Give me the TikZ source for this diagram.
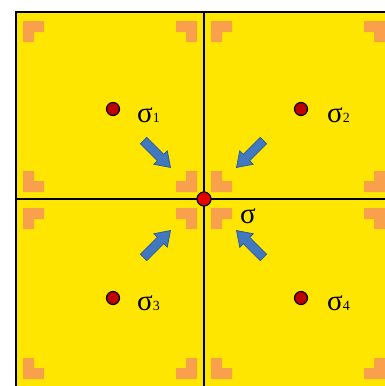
\documentclass[tikz,border=0pt]{standalone}
\usepackage{fontspec}
\setmainfont{Liberation Serif}
\definecolor{cellyellow}{RGB}{255,230,0}
\definecolor{bracketorange}{RGB}{248,160,75}
\definecolor{arrowblue}{RGB}{66,120,190}
\definecolor{arrowedge}{RGB}{45,90,150}
\definecolor{dotred}{RGB}{190,0,0}
\definecolor{centerred}{RGB}{230,0,0}
\tikzset{
  dot/.style={circle, draw=black, line width=1.2pt, fill=dotred, minimum size=13pt, inner sep=0pt},
  cdot/.style={circle, draw=black, line width=1.2pt, fill=centerred, minimum size=14pt, inner sep=0pt},
  lbl/.style={anchor=base west, inner sep=0pt, font=\fontsize{29}{29}\selectfont},
  bracket/.style={fill=bracketorange},
  grid line/.style={line width=2pt, draw=black},
  barrow/.style={fill=arrowblue, draw=arrowedge, line width=0.8pt, line join=miter}
}
\newcommand{\mysub}[1]{{\fontsize{14}{14}\selectfont #1}}
\begin{document}
\begin{tikzpicture}[x=1pt,y=-1pt]
\useasboundingbox (0,0) rectangle (385,386);
\clip (0,0) rectangle (385,386);
% cells
\fill[cellyellow] (16,12) rectangle (392,387);
% brackets
\foreach \cx/\cy in {16/12, 204/12, 16/199, 204/199}{
  \fill[bracket] ({\cx+7},{\cy+9}) -- ({\cx+28},{\cy+9}) -- ({\cx+28},{\cy+20}) -- ({\cx+18},{\cy+20}) -- ({\cx+18},{\cy+30}) -- ({\cx+7},{\cy+30}) -- cycle;
  \fill[bracket] ({\cx+181},{\cy+9}) -- ({\cx+160},{\cy+9}) -- ({\cx+160},{\cy+20}) -- ({\cx+170},{\cy+20}) -- ({\cx+170},{\cy+30}) -- ({\cx+181},{\cy+30}) -- cycle;
  \fill[bracket] ({\cx+7},{\cy+180}) -- ({\cx+28},{\cy+180}) -- ({\cx+28},{\cy+169}) -- ({\cx+18},{\cy+169}) -- ({\cx+18},{\cy+159}) -- ({\cx+7},{\cy+159}) -- cycle;
  \fill[bracket] ({\cx+181},{\cy+180}) -- ({\cx+160},{\cy+180}) -- ({\cx+160},{\cy+169}) -- ({\cx+170},{\cy+169}) -- ({\cx+170},{\cy+159}) -- ({\cx+181},{\cy+159}) -- cycle;
}
% grid lines
\draw[grid line, line width=2.6pt] (16,12) rectangle (392,387);
\draw[grid line] (204,12) -- (204,387);
\draw[grid line] (16,199) -- (392,199);
% arrows
\foreach \ax/\ay/\ang in {157/154/-45, 250/154/-135, 157/244/45, 250/244/135}{
  \begin{scope}[shift={(\ax,\ay)}, rotate=\ang]
    \filldraw[barrow] (-19,-4.5) -- (5,-4.5) -- (5,-9.5) -- (19,0) -- (5,9.5) -- (5,4.5) -- (-19,4.5) -- cycle;
  \end{scope}
}
% dots
\node[dot] (d1) at (113,109) {};
\node[dot] (d2) at (301,109) {};
\node[dot] (d3) at (113,298) {};
\node[dot] (d4) at (301,298) {};
\node[cdot] (c) at (204,199) {};
% labels
\node[lbl] (l1) at (137,122) {σ\mysub{1}};
\node[lbl] (l2) at (327,122) {σ\mysub{2}};
\node[lbl] (l3) at (137,310) {σ\mysub{3}};
\node[lbl] (l4) at (327,310) {σ\mysub{4}};
\node[lbl] (lc) at (240,223) {σ};
\end{tikzpicture}
\end{document}
